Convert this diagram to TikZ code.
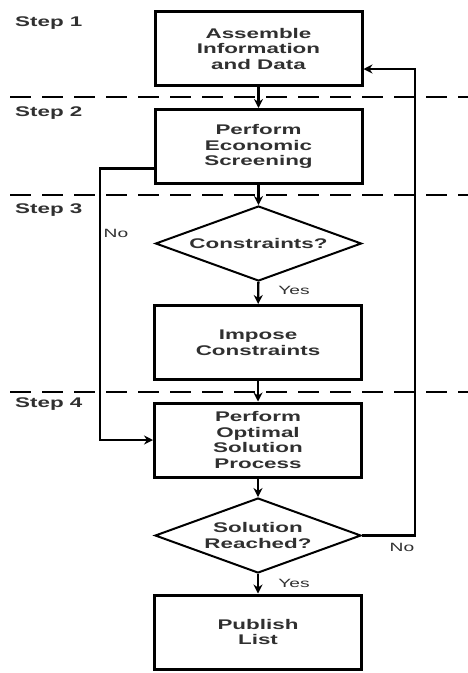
\documentclass[tikz,border=0pt]{standalone}
\usepackage{fontspec}
\setmainfont{Liberation Sans}[FakeStretch=1.6]
\usepackage{xcolor}
\usepackage{tikz}
\usetikzlibrary{shapes.geometric, positioning, arrows.meta}

\definecolor{inkgray}{HTML}{303030}

\begin{document}
\begin{tikzpicture}[>={Stealth[length=9pt, width=9pt]}, x=1pt, y=-1pt,
    process/.style={draw, line width=3pt, minimum width=207pt, minimum height=74pt,
        inner sep=0pt, align=center, text=inkgray,
        font=\bfseries\fontsize{14}{15.5}\selectfont},
    decision/.style={draw, diamond, aspect=2.7, line width=2pt, minimum width=206pt,
        minimum height=75pt, inner sep=0pt, align=center, text=inkgray,
        font=\bfseries\fontsize{14}{15.5}\selectfont},
    steplabel/.style={anchor=west, inner sep=0pt, text=inkgray,
        font=\bfseries\fontsize{14}{15}\selectfont},
    answer/.style={inner sep=0pt, text=inkgray, font=\fontsize{12}{13}\selectfont},
    flow/.style={line width=2.4pt},
    stepline/.style={line width=2.5pt, dash pattern=on 21pt off 11pt}]

    \useasboundingbox (0,0) rectangle (468,673);

    % =================================================================
    % 1. DASHED LINES SEPARATING THE STEPS
    % =================================================================
    \foreach \y in {97,195,392}
        \draw[stepline] (10,\y) -- (468,\y);

    % Step labels
    \node[steplabel] (step1) at (15,23)  {Step 1};
    \node[steplabel] (step2) at (15,113) {Step 2};
    \node[steplabel] (step3) at (15,210) {Step 3};
    \node[steplabel] (step4) at (15,404) {Step 4};

    % =================================================================
    % 2. BOXES AND DECISIONS
    % =================================================================
    \node[process]  (assemble) at (258.5,48.5)  {Assemble\\Information\\and Data};
    \node[process]  (econ)     at (258.5,146.5) {Perform\\Economic\\Screening};
    \node[decision] (cons)     at (258.5,243.5) {Constraints?};
    \node[process]  (impose)   at (258,342.5)   {Impose\\Constraints};
    \node[process]  (optimal)  at (258,440)     {Perform\\Optimal\\Solution\\Process};
    \node[decision] (reached)  at (258,535.5)   {Solution\\Reached?};
    \node[process]  (publish)  at (258,632)     {Publish\\List};

    % Corners of the two side loops
    \coordinate (leftrail)  at (100,440);
    \coordinate (rightrail) at (415,69);

    % =================================================================
    % 3. CONNECTORS
    % =================================================================
    \draw[flow, ->] (assemble) -- (econ);
    \draw[flow, ->] (econ) -- (cons);
    \draw[flow, ->] (cons) -- (impose);
    \draw[flow, ->] (impose) -- (optimal);
    \draw[flow, ->] (optimal) -- (reached);
    \draw[flow, ->] (reached) -- (publish);

    % No from screening straight to the solution process
    \draw[flow, ->] ([yshift=-22pt]econ.west) -| (leftrail) -- (optimal.west);

    % No from the solution test back to the data
    \draw[flow, ->] (reached.east) -| (rightrail) -- ([yshift=-20.5pt]assemble.east);

    % =================================================================
    % 4. YES / NO LABELS
    % =================================================================
    \node[answer] (noleft)  at (116,233) {No};
    \node[answer] (yes1)    at (294,290) {Yes};
    \node[answer] (yes2)    at (294,583) {Yes};
    \node[answer] (noright) at (402,547) {No};

\end{tikzpicture}
\end{document}
